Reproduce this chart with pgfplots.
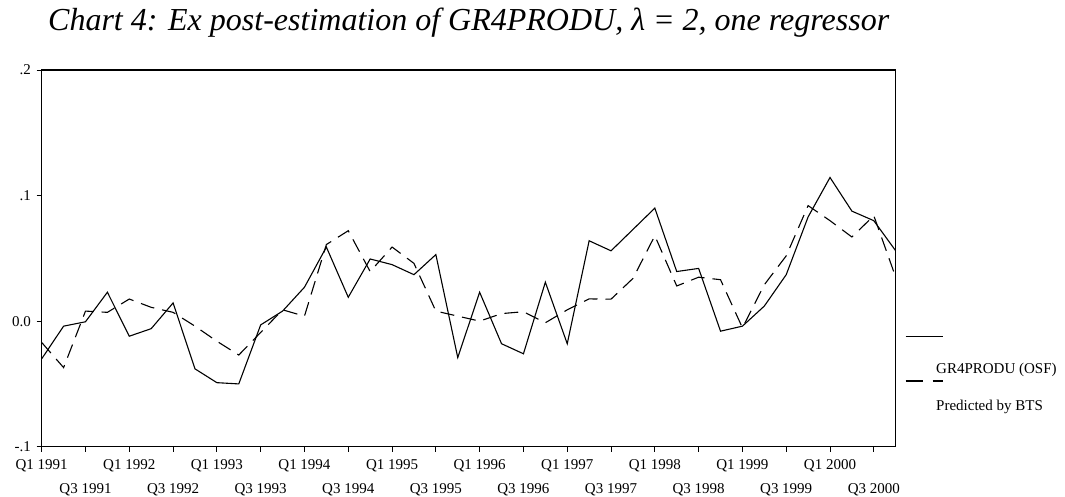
\documentclass[border=0pt]{standalone}
\usepackage{fontspec}
\setmainfont{Liberation Serif}
\usepackage{pgfplots}
\usepackage{pgfplotstable}
\pgfplotsset{compat=1.18}
\pgfplotstableread{
x s d
0 -0.030 -0.017
1 -0.004 -0.037
2 -0.0005 0.008
3 0.023 0.007
4 -0.012 0.0176
5 -0.006 0.011
6 0.0145 0.007
7 -0.038 -0.004
8 -0.049 -0.016
9 -0.050 -0.027
10 -0.003 -0.009
11 0.008 0.009
12 0.027 0.004
13 0.059 0.061
14 0.019 0.072
15 0.0495 0.0395
16 0.045 0.059
17 0.037 0.046
18 0.053 0.008
19 -0.029 0.004
20 0.023 0.000
21 -0.018 0.006
22 -0.026 0.0075
23 0.031 -0.0013
24 -0.018 0.009
25 0.064 0.0177
26 0.056 0.0175
27 0.073 0.034
28 0.090 0.068
29 0.0395 0.028
30 0.042 0.035
31 -0.008 0.033
32 -0.004 -0.0053
33 0.012 0.029
34 0.037 0.052
35 0.083 0.092
36 0.1144 0.080
37 0.0876 0.067
38 0.080 0.084
39 0.056 0.035
}\datatable
\newcommand{\qr}[1]{\raisebox{-23.5pt}{#1}}
\begin{document}
\begin{tikzpicture}
\begin{axis}[
  name=ax,
  at={(0pt,0pt)}, anchor=south west,
  scale only axis,
  width=854pt, height=376.7pt,
  xmin=0, xmax=39, ymin=-0.1, ymax=0.2,
  xtick={0,2,...,38},
  xticklabels={Q1 1991,\qr{Q3 1991},Q1 1992,\qr{Q3 1992},Q1 1993,\qr{Q3 1993},Q1 1994,\qr{Q3 1994},Q1 1995,\qr{Q3 1995},Q1 1996,\qr{Q3 1996},Q1 1997,\qr{Q3 1997},Q1 1998,\qr{Q3 1998},Q1 1999,\qr{Q3 1999},Q1 2000,\qr{Q3 2000}},
  ytick={-0.1,0,0.1,0.2},
  yticklabels={-.1,0.0,.1,.2},
  tick pos=left,
  tick align=outside,
  major tick length=5pt,
  tick style={line width=1pt, black},
  axis line style={line width=1.3pt},
  ticklabel style={font=\fontsize{15}{18}\selectfont},
  xticklabel style={anchor=base, inner sep=0pt, yshift=-18pt},
  yticklabel style={anchor=east, inner sep=0pt, xshift=-5.7pt},
  title={Chart 4: Ex post-estimation of GR4PRODU, λ = 2, one regressor},
  title style={font=\itshape\fontsize{32}{36}\selectfont, at={(0.5,1)}, anchor=base, yshift=33.3pt, inner sep=0pt},
]
\addplot[black, line width=1.1pt] table[x=x, y=s] {\datatable};
\addplot[black, line width=1.1pt, dash pattern=on 14pt off 8pt] table[x=x, y=d] {\datatable};
\end{axis}
% legend
\draw[black, line width=1.1pt] ([xshift=10pt,yshift=110pt]ax.south east) -- ++(37pt,0pt);
\node[anchor=base west, inner sep=0pt, font=\fontsize{15}{18}\selectfont] at ([xshift=40.3pt,yshift=73pt]ax.south east) {GR4PRODU (OSF)};
\draw[black, line width=1.1pt, dash pattern=on 17pt off 10pt] ([xshift=10pt,yshift=65.7pt]ax.south east) -- ++(37pt,0pt);
\node[anchor=base west, inner sep=0pt, font=\fontsize{15}{18}\selectfont] at ([xshift=40.3pt,yshift=36pt]ax.south east) {Predicted by BTS};
\pgfresetboundingbox
\path[use as bounding box] (-41.7pt,-49.3pt) rectangle (1023.3pt,446.7pt);
\end{tikzpicture}
\end{document}
